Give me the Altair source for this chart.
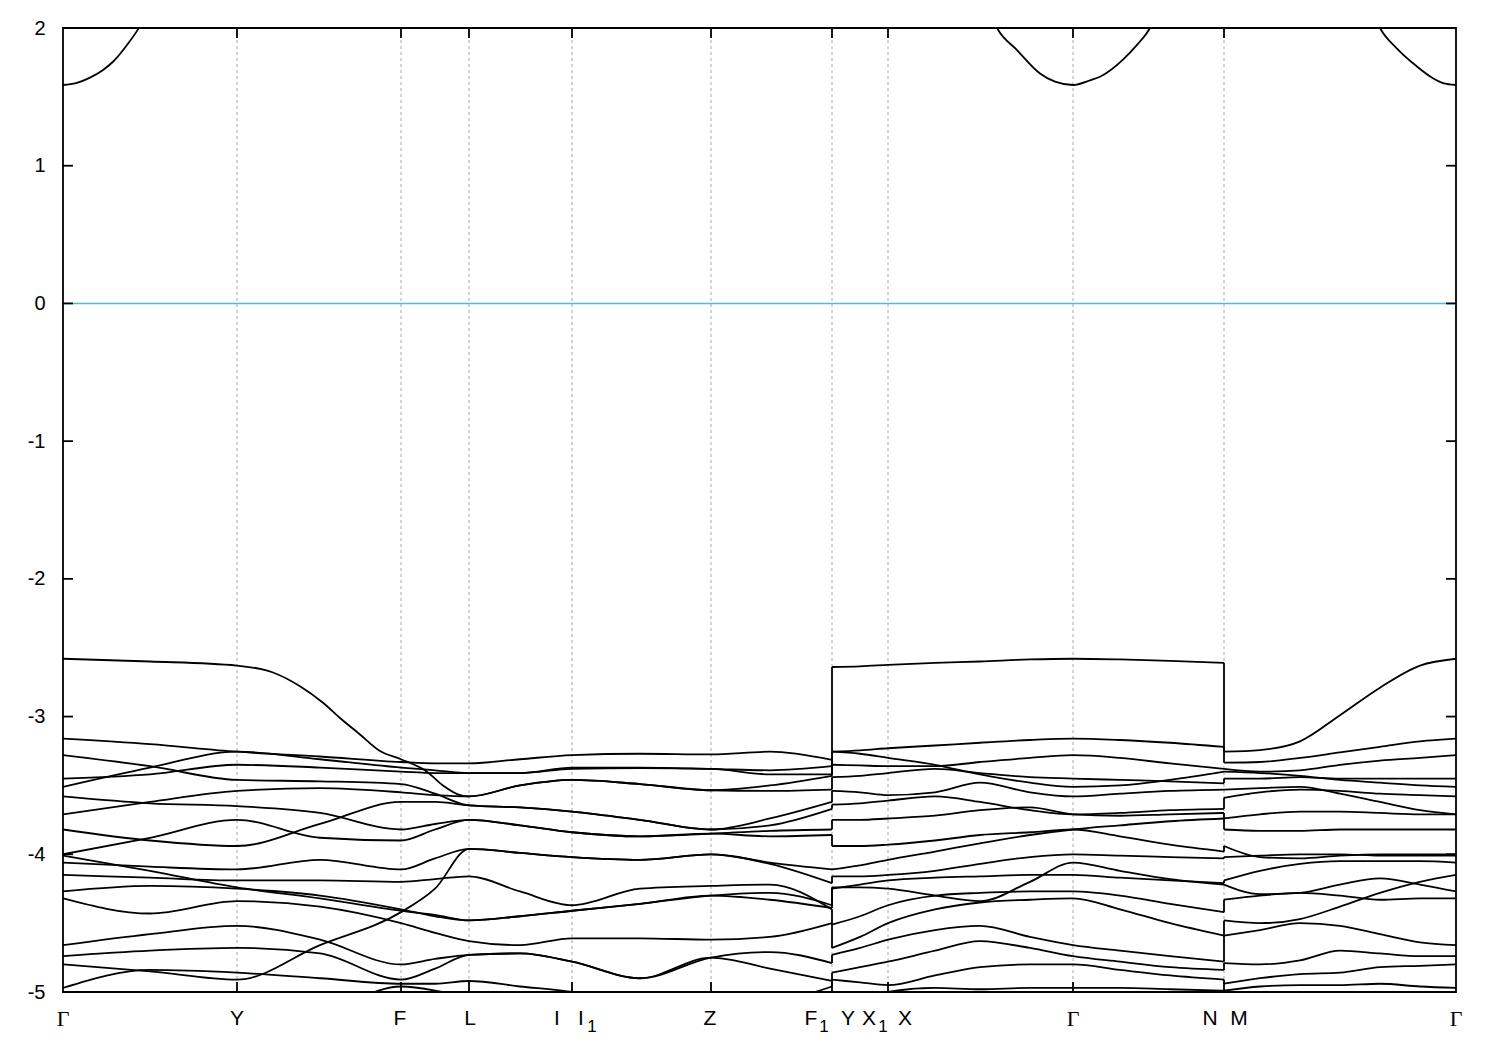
import altair as alt
import pandas as pd

W, H = 1393, 964

# high-symmetry k positions (path distance units)
TICK_K = [0.00, 1.74, 3.38, 4.06, 5.09, 6.48, 7.69, 8.25, 10.10, 11.61, 13.93]
Y_TICKS = [-5, -4, -3, -2, -1, 0, 1, 2]

# ---------- segment A : Gamma - Y - F - L - I | I1 - Z - F1 ----------
KA = [0.00, 0.87, 1.74, 2.57, 3.38, 3.72, 4.06, 4.57, 5.09, 5.77, 6.48, 7.07, 7.69]
TOP_A_K = [0.00, 0.87, 1.74, 2.10, 2.37, 2.60, 2.77, 2.97, 3.17, 3.38, 3.64, 3.80,
           3.97, 4.06, 4.57, 5.09, 5.77, 6.48, 7.07, 7.69]
TOP_A_E = [-2.58, -2.60, -2.63, -2.68, -2.78, -2.90, -3.01, -3.13, -3.25, -3.31, -3.40, -3.50,
           -3.57, -3.58, -3.50, -3.46, -3.49, -3.535, -3.50, -3.43]
BANDS_A = [
    [-3.16, -3.20, -3.255, -3.29, -3.33, -3.34, -3.34, -3.31, -3.28, -3.27, -3.275, -3.255, -3.315],
    [-3.51, -3.37, -3.255, -3.31, -3.37, -3.39, -3.41, -3.41, -3.37, -3.37, -3.38, -3.39, -3.36],
    [-3.45, -3.42, -3.35, -3.37, -3.40, -3.41, -3.41, -3.41, -3.38, -3.375, -3.38, -3.42, -3.42],
    [-3.28, -3.36, -3.46, -3.47, -3.49, -3.56, -3.645, -3.66, -3.69, -3.75, -3.82, -3.79, -3.67],
    [-3.71, -3.62, -3.54, -3.52, -3.55, -3.57, -3.58, -3.50, -3.46, -3.49, -3.535, -3.54, -3.53],
    [-3.58, -3.63, -3.65, -3.70, -3.82, -3.78, -3.75, -3.79, -3.84, -3.87, -3.85, -3.83, -3.82],
    [-3.82, -3.90, -3.94, -3.78, -3.62, -3.62, -3.645, -3.66, -3.69, -3.75, -3.82, -3.74, -3.62],
    [-4.00, -3.88, -3.75, -3.88, -3.90, -3.82, -3.75, -3.79, -3.84, -3.87, -3.85, -3.87, -3.86],
    [-4.06, -4.09, -4.11, -4.04, -4.11, -4.03, -3.96, -3.99, -4.02, -4.04, -4.00, -4.07, -4.21],
    [-4.15, -4.17, -4.19, -4.19, -4.20, -4.18, -4.16, -4.27, -4.37, -4.25, -4.23, -4.22, -4.40],
    [-4.01, -4.12, -4.24, -4.32, -4.41, -4.44, -4.48, -4.45, -4.41, -4.36, -4.30, -4.33, -4.39],
    [-4.27, -4.23, -4.25, -4.30, -4.40, -4.45, -4.48, -4.45, -4.41, -4.36, -4.30, -4.28, -4.37],
    [-4.32, -4.43, -4.34, -4.38, -4.50, -4.57, -4.63, -4.66, -4.61, -4.61, -4.62, -4.60, -4.50],
    [-4.80, -4.85, -4.91, -4.66, -4.42, -4.25, -3.96, -3.99, -4.02, -4.04, -4.00, -4.06, -4.11],
    [-4.66, -4.58, -4.52, -4.62, -4.80, -4.76, -4.73, -4.72, -4.78, -4.90, -4.75, -4.71, -4.79],
    [-4.74, -4.70, -4.68, -4.72, -4.91, -4.83, -4.73, -4.72, -4.78, -4.90, -4.75, -4.83, -4.92],
    [-4.97, -4.84, -4.86, -4.90, -4.94, -4.94, -4.92, -4.96, -5.00, -5.10, -5.20, -5.20, -5.20],
    [-5.20, -5.20, -5.20, -5.15, -4.96, -4.99, -5.05, -5.20, -5.20, -5.20, -5.20, -5.10, -4.96],
]

# ---------- segment B : Y - X1 | X - Gamma - N ----------
KB = [7.69, 7.97, 8.25, 8.72, 9.17, 9.67, 10.10, 10.57, 11.07, 11.61]
BANDS_B = [
    [-2.64, -2.635, -2.625, -2.61, -2.60, -2.585, -2.58, -2.585, -2.595, -2.61],
    [-3.255, -3.245, -3.23, -3.21, -3.19, -3.17, -3.16, -3.17, -3.19, -3.22],
    [-3.255, -3.27, -3.30, -3.35, -3.42, -3.48, -3.51, -3.50, -3.46, -3.40],
    [-3.35, -3.355, -3.36, -3.36, -3.33, -3.30, -3.28, -3.30, -3.34, -3.38],
    [-3.44, -3.43, -3.41, -3.38, -3.41, -3.44, -3.45, -3.46, -3.47, -3.485],
    [-3.54, -3.55, -3.57, -3.55, -3.48, -3.55, -3.58, -3.56, -3.54, -3.53],
    [-3.64, -3.63, -3.61, -3.58, -3.62, -3.68, -3.71, -3.70, -3.68, -3.67],
    [-3.75, -3.75, -3.74, -3.72, -3.68, -3.66, -3.71, -3.72, -3.71, -3.70],
    [-3.94, -3.94, -3.93, -3.90, -3.86, -3.84, -3.82, -3.87, -3.93, -3.98],
    [-4.11, -4.08, -4.04, -3.98, -3.92, -3.86, -3.82, -3.79, -3.76, -3.74],
    [-4.16, -4.16, -4.15, -4.12, -4.07, -4.02, -4.00, -4.01, -4.02, -4.03],
    [-4.24, -4.24, -4.25, -4.30, -4.34, -4.20, -4.06, -4.12, -4.18, -4.22],
    [-4.25, -4.22, -4.19, -4.17, -4.16, -4.15, -4.15, -4.17, -4.19, -4.21],
    [-4.51, -4.45, -4.37, -4.30, -4.28, -4.27, -4.27, -4.30, -4.36, -4.42],
    [-4.68, -4.60, -4.50, -4.40, -4.35, -4.33, -4.32, -4.40, -4.50, -4.59],
    [-4.73, -4.68, -4.62, -4.55, -4.52, -4.60, -4.66, -4.70, -4.74, -4.78],
    [-4.86, -4.82, -4.78, -4.70, -4.63, -4.68, -4.74, -4.78, -4.82, -4.84],
    [-4.91, -4.93, -4.95, -4.88, -4.82, -4.80, -4.80, -4.84, -4.88, -4.91],
    [-5.00, -5.05, -5.00, -4.97, -4.98, -4.97, -4.97, -4.97, -4.98, -4.99],
]

# ---------- segment C : M - Gamma ----------
KC = [11.61, 11.97, 12.37, 12.77, 13.17, 13.57, 13.93]
BANDS_C = [
    [-3.255, -3.243, -3.18, -2.99, -2.79, -2.63, -2.58],
    [-3.335, -3.33, -3.30, -3.26, -3.22, -3.18, -3.16],
    [-3.38, -3.40, -3.39, -3.35, -3.32, -3.30, -3.28],
    [-3.40, -3.41, -3.43, -3.46, -3.48, -3.50, -3.51],
    [-3.45, -3.45, -3.44, -3.45, -3.45, -3.45, -3.45],
    [-3.53, -3.52, -3.51, -3.56, -3.62, -3.68, -3.71],
    [-3.59, -3.55, -3.53, -3.54, -3.56, -3.57, -3.58],
    [-3.74, -3.71, -3.69, -3.69, -3.70, -3.71, -3.71],
    [-3.82, -3.83, -3.83, -3.82, -3.82, -3.82, -3.82],
    [-3.94, -4.02, -4.03, -4.01, -4.00, -4.00, -4.00],
    [-4.02, -4.01, -4.00, -4.00, -4.01, -4.01, -4.01],
    [-4.19, -4.12, -4.07, -4.05, -4.05, -4.05, -4.06],
    [-4.22, -4.29, -4.28, -4.22, -4.175, -4.22, -4.27],
    [-4.33, -4.30, -4.28, -4.30, -4.33, -4.32, -4.32],
    [-4.48, -4.50, -4.47, -4.38, -4.28, -4.20, -4.15],
    [-4.59, -4.55, -4.50, -4.52, -4.58, -4.64, -4.66],
    [-4.79, -4.80, -4.77, -4.70, -4.72, -4.74, -4.74],
    [-4.94, -4.90, -4.87, -4.86, -4.82, -4.81, -4.80],
    [-4.99, -4.96, -4.95, -4.95, -4.94, -4.96, -4.97],
]

# ---------- conduction band (visible pieces) ----------
CB1_K = [0.00, 0.13, 0.27, 0.39, 0.50, 0.64, 0.75, 0.87]
CB1_E = [1.586, 1.60, 1.64, 1.69, 1.755, 1.877, 1.99, 2.15]
CB2_K = [9.22, 9.34, 9.54, 9.77, 9.92, 10.10, 10.27, 10.37, 10.60, 10.74, 10.87, 10.99]
CB2_E = [2.2, 2.0, 1.84, 1.67, 1.61, 1.586, 1.62, 1.646, 1.77, 1.877, 2.0, 2.2]
CB3_K = [13.05, 13.17, 13.34, 13.54, 13.70, 13.80, 13.93]
CB3_E = [2.2, 2.0, 1.85, 1.72, 1.635, 1.60, 1.586]

# ---------- build tables ----------
rows = []


def add(name, ks, es):
    for o, (k, e) in enumerate(zip(ks, es)):
        rows.append({"k": k, "E": e, "band": name, "o": o})


add("A_top", TOP_A_K, TOP_A_E)
for i, b in enumerate(BANDS_A):
    add(f"A{i}", KA, b)
for i, b in enumerate(BANDS_B):
    add(f"B{i}", KB, b)
for i, b in enumerate(BANDS_C):
    add(f"C{i}", KC, b)
add("CB1", CB1_K, CB1_E)
add("CB2", CB2_K, CB2_E)
add("CB3", CB3_K, CB3_E)
bands = pd.DataFrame(rows)

# vertical connections at path discontinuities (band index = energy rank)
endA = sorted([b[-1] for b in BANDS_A] + [TOP_A_E[-1]])
startB = sorted([b[0] for b in BANDS_B])
endB = sorted([b[-1] for b in BANDS_B])
startC = sorted([b[0] for b in BANDS_C])
jumps = pd.DataFrame(
    [{"k": KB[0], "y1": a, "y2": b} for a, b in zip(endA, startB)]
    + [{"k": KC[0], "y1": a, "y2": b} for a, b in zip(endB, startC)]
)

xs = alt.Scale(domain=[TICK_K[0], TICK_K[-1]], nice=False, zero=False)
ys = alt.Scale(domain=[-5, 2], nice=False, zero=False)
yaxis = alt.Axis(values=Y_TICKS, labelExpr="datum.value + ''", labelFontSize=20,
                 labelFont="Liberation Sans", labelColor="black", ticks=False,
                 domain=False, grid=False, labelPadding=18, title=None)

inner = pd.DataFrame({"k": TICK_K[1:-1]})
yt = pd.DataFrame({"v": Y_TICKS})
zero = pd.DataFrame({"v": [0]})

X = lambda f: alt.X(f, scale=xs, axis=None)
Y = lambda f: alt.Y(f, scale=ys, axis=yaxis)

LW = 1.8

grid = alt.Chart(inner).mark_rule(color="#a8a8a8", strokeDash=[3, 3], strokeWidth=1).encode(
    x=X("k:Q"), y=alt.value(0), y2=alt.value(H))
zline = alt.Chart(zero).mark_rule(color="#56b4e9", strokeWidth=1.6).encode(
    y=Y("v:Q"), x=alt.value(0), x2=alt.value(W))
lines = alt.Chart(bands).mark_line(color="black", strokeWidth=LW, interpolate="monotone",
                                   clip=True).encode(
    x=X("k:Q"), y=Y("E:Q"), detail="band:N", order="o:Q")
jl = alt.Chart(jumps).mark_rule(color="black", strokeWidth=LW, clip=True).encode(
    x=X("k:Q"), y=Y("y1:Q"), y2="y2:Q")
tb = alt.Chart(inner).mark_rule(color="black", strokeWidth=LW).encode(
    x=X("k:Q"), y=alt.value(H - 10), y2=alt.value(H))
tt = alt.Chart(inner).mark_rule(color="black", strokeWidth=LW).encode(
    x=X("k:Q"), y=alt.value(0), y2=alt.value(10))
tl = alt.Chart(yt).mark_rule(color="black", strokeWidth=LW).encode(
    y=Y("v:Q"), x=alt.value(0), x2=alt.value(10))
tr = alt.Chart(yt).mark_rule(color="black", strokeWidth=LW).encode(
    y=Y("v:Q"), x=alt.value(W - 10), x2=alt.value(W))

layers = [grid, zline, lines, jl, tb, tt, tl, tr]

# tick labels: (tick index, text, horizontal offset, style)
LABEL_PIECES = [
    (0, "Γ", 0, "g"), (1, "Y", 0, "m"), (2, "F", -1, "m"), (3, "L", 1, "m"),
    (4, "I", -15, "m"), (4, "I", 9, "m"), (4, "1", 20, "s"),
    (5, "Z", -1, "m"),
    (6, "F", -21, "m"), (6, "1", -8, "s"), (6, "Y", 16, "m"),
    (7, "X", -19, "m"), (7, "1", -5, "s"), (7, "X", 17, "m"),
    (8, "Γ", 0, "g"), (9, "N", -14, "m"), (9, "M", 15, "m"), (10, "Γ", 0, "g"),
]
for ti, txt, dx, st in LABEL_PIECES:
    d = pd.DataFrame({"k": [TICK_K[ti]], "t": [txt]})
    if st == "g":
        mk = dict(font="Liberation Serif", fontSize=22)
        yy = H + 27
    elif st == "s":
        mk = dict(font="Liberation Sans", fontSize=17)
        yy = H + 35
    else:
        mk = dict(font="Liberation Sans", fontSize=21)
        yy = H + 27
    layers.append(alt.Chart(d).mark_text(dx=dx, align="center", baseline="middle",
                                         color="black", **mk).encode(
        x=X("k:Q"), y=alt.value(yy), text="t:N"))

chart = alt.layer(*layers).properties(
    width=W, height=H, autosize="none",
    padding={"left": 55, "top": 20, "right": 25, "bottom": 45},
    background="white",
).configure_view(stroke="black", strokeWidth=LW)

chart.save("out.html", embed_options={"renderer": "svg", "actions": False})
